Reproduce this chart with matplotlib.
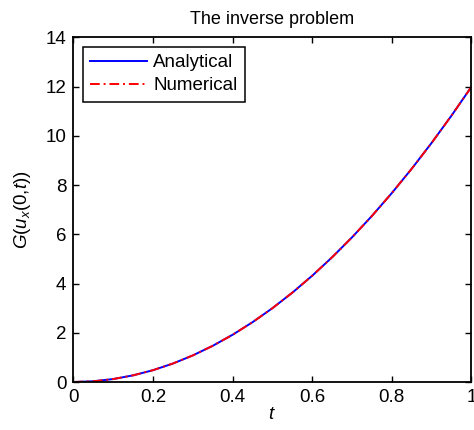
import matplotlib
matplotlib.use("Agg")
import matplotlib.pyplot as plt

plt.rcParams['font.family'] = ['Liberation Sans', 'DejaVu Sans']
plt.rcParams['mathtext.fontset'] = 'custom'
plt.rcParams['mathtext.it'] = 'Liberation Sans:italic'
plt.rcParams['mathtext.rm'] = 'Liberation Sans'

# Data
t = [0.0, 0.05, 0.1, 0.15, 0.2, 0.25, 0.3, 0.35, 0.4, 0.45, 0.5,
     0.55, 0.6, 0.65, 0.7, 0.75, 0.8, 0.85, 0.9, 0.95, 1.0]
g_analytical = [0.0, 0.03, 0.12, 0.27, 0.48, 0.75, 1.08, 1.47, 1.92, 2.43, 3.0,
                3.63, 4.32, 5.07, 5.88, 6.75, 7.68, 8.67, 9.72, 10.83, 12.0]
g_numerical = [0.0, 0.03, 0.12, 0.27, 0.48, 0.75, 1.08, 1.47, 1.92, 2.43, 3.0,
               3.63, 4.32, 5.07, 5.88, 6.75, 7.68, 8.67, 9.72, 10.83, 12.0]
x_ticks = [0, 0.2, 0.4, 0.6, 0.8, 1]
x_ticklabels = ['0', '0.2', '0.4', '0.6', '0.8', '1']
y_ticks = [0, 2, 4, 6, 8, 10, 12, 14]
y_ticklabels = ['0', '2', '4', '6', '8', '10', '12', '14']

FS = 13.5

fig = plt.figure(figsize=(4.74, 4.30), dpi=100)
ax = fig.add_axes([0.1547, 0.1116, 0.8400, 0.8012])

ax.plot(t, g_analytical, color='#0000ff', lw=1.4, label='Analytical')
ax.plot(t, g_numerical, color='#ff0000', lw=1.4, ls=(0, (5, 2, 1, 2)), label='Numerical')

ax.set_xlim(0, 1)
ax.set_ylim(0, 14)
ax.set_xticks(x_ticks)
ax.set_xticklabels(x_ticklabels)
ax.set_yticks(y_ticks)
ax.set_yticklabels(y_ticklabels)
ax.tick_params(direction='in', length=4, width=1.0, top=True, right=True,
               labelsize=FS, colors='black', pad=5)
for s in ax.spines.values():
    s.set_linewidth(1.3)
    s.set_color('black')

ax.set_title('The inverse problem', fontsize=13, pad=10)
ax.set_xlabel('$t$', fontsize=FS, labelpad=0)
ax.set_ylabel('$G(u_x(0{,}t))$', fontsize=FS, labelpad=9)

leg = ax.legend(loc='upper left', bbox_to_anchor=(0.0236, 0.973), borderaxespad=0,
                fontsize=FS, fancybox=False, framealpha=1, edgecolor='black',
                handlelength=3.05, handletextpad=0.32, labelspacing=0.3,
                borderpad=0.4)
leg.get_frame().set_linewidth(1.1)

fig.savefig('out.png', dpi=100)
